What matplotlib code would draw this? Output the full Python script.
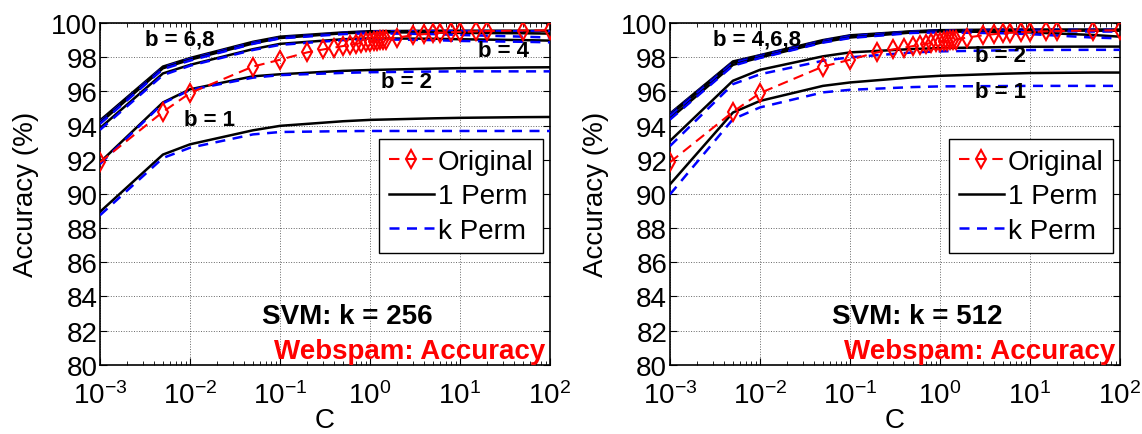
import matplotlib
matplotlib.use('Agg')
import matplotlib.pyplot as plt
import numpy as np

plt.rcParams['font.family'] = ['Liberation Sans', 'DejaVu Sans']
plt.rcParams['mathtext.fontset'] = 'custom'
plt.rcParams['mathtext.rm'] = 'Liberation Sans'
plt.rcParams['mathtext.default'] = 'regular'

# C grid for the "Original" curve
c_orig = [0.001, 0.005, 0.01, 0.05, 0.1, 0.2, 0.3, 0.4, 0.5, 0.6, 0.7, 0.8, 0.9, 1,
          1.1, 1.2, 1.3, 1.4, 1.5, 2, 3, 4, 5, 6, 8, 10, 15, 20, 50, 100]
acc_orig = [91.85, 94.8, 95.9, 97.45, 97.85, 98.28, 98.45, 98.56, 98.65, 98.72, 98.78,
            98.83, 98.87, 98.9, 98.93, 98.96, 98.99, 99.01, 99.03, 99.15, 99.28, 99.35,
            99.4, 99.43, 99.46, 99.48, 99.51, 99.53, 99.56, 99.57]

# C grid for the hashed curves
c_hash = [0.001, 0.005, 0.01, 0.05, 0.1, 0.5, 1, 5, 10, 50, 100]

# k = 256 : (1 Perm, k Perm) per b
k256_b8_1 = [94.3, 97.45, 97.95, 98.9, 99.2, 99.45, 99.52, 99.55, 99.55, 99.55, 99.55]
k256_b8_k = [94.2, 97.4, 97.9, 98.85, 99.15, 99.42, 99.5, 99.53, 99.53, 99.52, 99.52]
k256_b6_1 = [94.15, 97.35, 97.85, 98.8, 99.12, 99.4, 99.45, 99.45, 99.42, 99.4, 99.38]
k256_b6_k = [94.1, 97.3, 97.8, 98.78, 99.1, 99.35, 99.4, 99.35, 99.3, 99.2, 99.15]
k256_b4_1 = [93.85, 97.05, 97.55, 98.47, 98.78, 99.05, 99.1, 99.08, 99.05, 99.0, 98.97]
k256_b4_k = [93.75, 96.95, 97.5, 98.42, 98.72, 99.0, 99.05, 99.0, 98.95, 98.9, 98.87]
k256_b2_1 = [91.85, 95.35, 96.12, 96.88, 97.0, 97.2, 97.25, 97.33, 97.36, 97.4, 97.41]
k256_b2_k = [91.75, 95.3, 96.08, 96.8, 96.95, 97.08, 97.12, 97.16, 97.17, 97.17, 97.17]
k256_b1_1 = [88.95, 92.3, 92.9, 93.72, 93.98, 94.25, 94.33, 94.42, 94.45, 94.49, 94.5]
k256_b1_k = [88.75, 92.1, 92.7, 93.48, 93.62, 93.67, 93.68, 93.68, 93.68, 93.68, 93.68]

# k = 512
k512_b8_1 = [94.7, 97.75, 98.12, 99.0, 99.28, 99.52, 99.58, 99.62, 99.62, 99.62, 99.62]
k512_b8_k = [94.65, 97.7, 98.1, 98.97, 99.25, 99.5, 99.56, 99.6, 99.6, 99.6, 99.6]
k512_b6_1 = [94.6, 97.68, 98.08, 98.95, 99.24, 99.5, 99.55, 99.57, 99.56, 99.55, 99.55]
k512_b6_k = [94.55, 97.65, 98.05, 98.93, 99.22, 99.48, 99.53, 99.55, 99.53, 99.5, 99.5]
k512_b4_1 = [94.4, 97.55, 97.98, 98.88, 99.15, 99.45, 99.5, 99.48, 99.45, 99.3, 99.2]
k512_b4_k = [94.35, 97.5, 97.95, 98.85, 99.12, 99.42, 99.45, 99.4, 99.35, 99.15, 99.1]
k512_b2_1 = [93.1, 96.62, 97.26, 98.05, 98.28, 98.48, 98.53, 98.59, 98.61, 98.62, 98.62]
k512_b2_k = [92.8, 96.42, 97.0, 97.79, 97.99, 98.28, 98.34, 98.4, 98.42, 98.43, 98.43]
k512_b1_1 = [90.56, 94.76, 95.44, 96.32, 96.52, 96.82, 96.91, 97.03, 97.07, 97.1, 97.1]
k512_b1_k = [89.97, 94.37, 95.06, 95.94, 96.09, 96.25, 96.29, 96.31, 96.32, 96.32, 96.32]

paineis = [
    {'k': 256,
     'curvas': [(k256_b8_1, k256_b8_k), (k256_b6_1, k256_b6_k), (k256_b4_1, k256_b4_k),
                (k256_b2_1, k256_b2_k), (k256_b1_1, k256_b1_k)],
     'rotulos': [('b = 6,8', 10**-2.11, 99.06), ('b = 4', 10**1.48, 98.42),
                 ('b = 2', 10**0.41, 96.55), ('b = 1', 10**-1.78, 94.38)]},
    {'k': 512,
     'curvas': [(k512_b8_1, k512_b8_k), (k512_b6_1, k512_b6_k), (k512_b4_1, k512_b4_k),
                (k512_b2_1, k512_b2_k), (k512_b1_1, k512_b1_k)],
     'rotulos': [('b = 4,6,8', 10**-2.03, 99.06), ('b = 2', 10**0.67, 98.07),
                 ('b = 1', 10**0.67, 96.02)]},
]

fig = plt.figure(figsize=(11.42, 4.35), dpi=100)
posicoes = [[0.0876, 0.1593, 0.394, 0.7855], [0.5867, 0.1593, 0.394, 0.7855]]

fs = 20

for pos, painel in zip(posicoes, paineis):
    ax = fig.add_axes(pos)

    for um, kp in painel['curvas']:
        ax.plot(c_hash, um, color='k', lw=1.8, zorder=3)
        ax.plot(c_hash, kp, color='b', lw=1.8, ls=(0, (4, 3)), zorder=3)

    ax.plot(c_orig, acc_orig, color='r', lw=1.5, ls=(0, (5, 3)), marker='d',
            mfc='none', mec='r', mew=1.5, ms=9, zorder=4)

    ax.set_xscale('log')
    ax.set_xlim(1e-3, 1e2)
    ax.set_ylim(80, 100)
    ax.set_yticks(np.arange(80, 101, 2))
    ax.set_xticks([1e-3, 1e-2, 1e-1, 1, 10, 100])
    ax.grid(True, which='major', ls=':', color='k', lw=0.7, alpha=0.6)
    ax.tick_params(which='both', direction='in', top=True, right=True, labelsize=fs)
    ax.tick_params(which='major', length=5)
    ax.tick_params(which='minor', length=3)
    ax.tick_params(axis='x', pad=12)
    ax.tick_params(axis='y', pad=2)
    for sp in ax.spines.values():
        sp.set_linewidth(1.2)

    ax.set_xlabel('C', fontsize=fs)
    ax.set_ylabel('Accuracy (%)', fontsize=fs)
    ax.xaxis.set_label_coords(0.5, -0.125)
    ax.yaxis.set_label_coords(-0.135, 0.5)

    for txt, xx, yy in painel['rotulos']:
        ax.text(xx, yy, txt, fontsize=16, fontweight='bold', ha='center', va='center', zorder=5)

    ax.text(0.55, 0.143, 'SVM: k = %d' % painel['k'], transform=ax.transAxes,
            fontsize=fs, fontweight='bold', ha='center', va='center')
    ax.text(0.99, 0.04, 'Webspam: Accuracy', transform=ax.transAxes, color='r',
            fontsize=fs, fontweight='bold', ha='right', va='center')

    h_o, = ax.plot([], [], color='r', lw=1.5, ls=(0, (5, 3)), marker='d', mfc='none',
                   mec='r', mew=1.5, ms=9)
    h_1, = ax.plot([], [], color='k', lw=1.8)
    h_k, = ax.plot([], [], color='b', lw=1.8, ls=(0, (4, 3)))
    leg = ax.legend([h_o, h_1, h_k], ['Original', '1 Perm', 'k Perm'], loc='upper right',
                    bbox_to_anchor=(0.985, 0.66), fontsize=fs, fancybox=False,
                    edgecolor='k', framealpha=1, handlelength=1.6, borderpad=0.35,
                    labelspacing=0.3, handletextpad=0.15, borderaxespad=0)
    leg.get_frame().set_linewidth(1.0)

plt.savefig('out.png', dpi=100)
